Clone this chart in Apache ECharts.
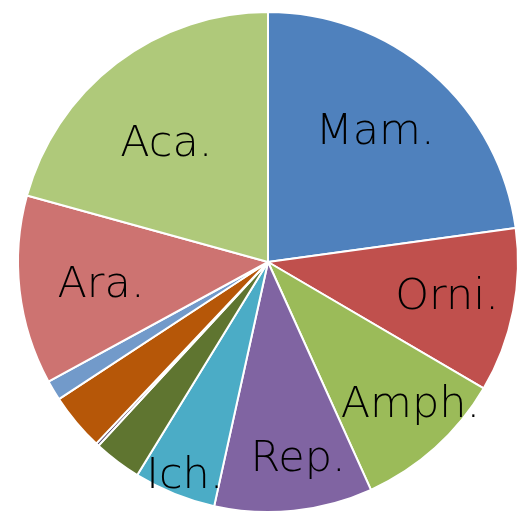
<!DOCTYPE html>
<html>
<head>
<meta charset="utf-8">
<script src="https://cdn.jsdelivr.net/npm/echarts@6/dist/echarts.min.js"></script>
<style>
  html, body { margin: 0; padding: 0; background: #fff; }
  #containerg { width: 523px; height: 515px; }
</style>
</head>
<body>
<div id="containerg"></div>
<script>
// slices clockwise from 12 o'clock
var categories = ['Mam.', 'Orni.', 'Amph.', 'Rep.', 'Ich.', '', '', '', '', 'Ara.', 'Aca.'];
var values = [22.8, 10.6, 9.8, 10.2, 5.3, 3.1, 0.2, 3.7, 1.3, 12.2, 20.7];
var colors = ['#4F81BD', '#C0504D', '#9BBB59', '#8064A2', '#4BACC6', '#5F7530',
    '#4D3B62', '#B65708', '#729ACA', '#CD7371', '#AFC97A'];
// where each label sits: part of the radius, and turn (deg) off the slice middle
var labelRadius = [0.67, 0.73, 0.81, 0.80, 0.92, 0.5, 0.5, 0.5, 0.5, 0.675, 0.62];
var labelTurn = [-1.3, 0, -2.7, -2.7, -0.8, 0, 0, 0, 0, -1.7, -3.7];

var cx = 268, cy = 262, R = 250;

armagrafico();

function armagrafico() {
    var dom = document.getElementById("containerg");
    var myChart = echarts.init(dom, null, { renderer: 'canvas' });

    var data = [];
    for (var i = 0; i < values.length; i++) {
        data.push({
            value: values[i],
            name: categories[i],
            itemStyle: { color: colors[i] },
            label: { show: categories[i] != '' }
        });
    }

    var option = {
        animation: false,
        series: [{
            type: 'pie',
            center: [cx, cy],
            radius: [0, R],
            startAngle: 90,
            clockwise: true,
            avoidLabelOverlap: false,
            itemStyle: {
                borderColor: '#fff',
                borderWidth: 2
            },
            label: {
                position: 'inside',
                formatter: '{b}',
                color: '#000',
                fontFamily: 'DejaVu Sans',
                fontWeight: 300,
                fontSize: 43
            },
            labelLine: { show: false },
            labelLayout: function (params) {
                var rc = params.labelRect;
                var i = params.dataIndex;
                var lx = rc.x + rc.width / 2;
                var ly = rc.y + rc.height / 2;
                var a = Math.atan2(lx - cx, cy - ly) + labelTurn[i] * Math.PI / 180;
                var r = labelRadius[i] * R;
                return {
                    dx: cx + r * Math.sin(a) - lx,
                    dy: cy - r * Math.cos(a) - ly
                };
            },
            data: data
        }]
    };

    myChart.setOption(option);
}
</script>
</body>
</html>
